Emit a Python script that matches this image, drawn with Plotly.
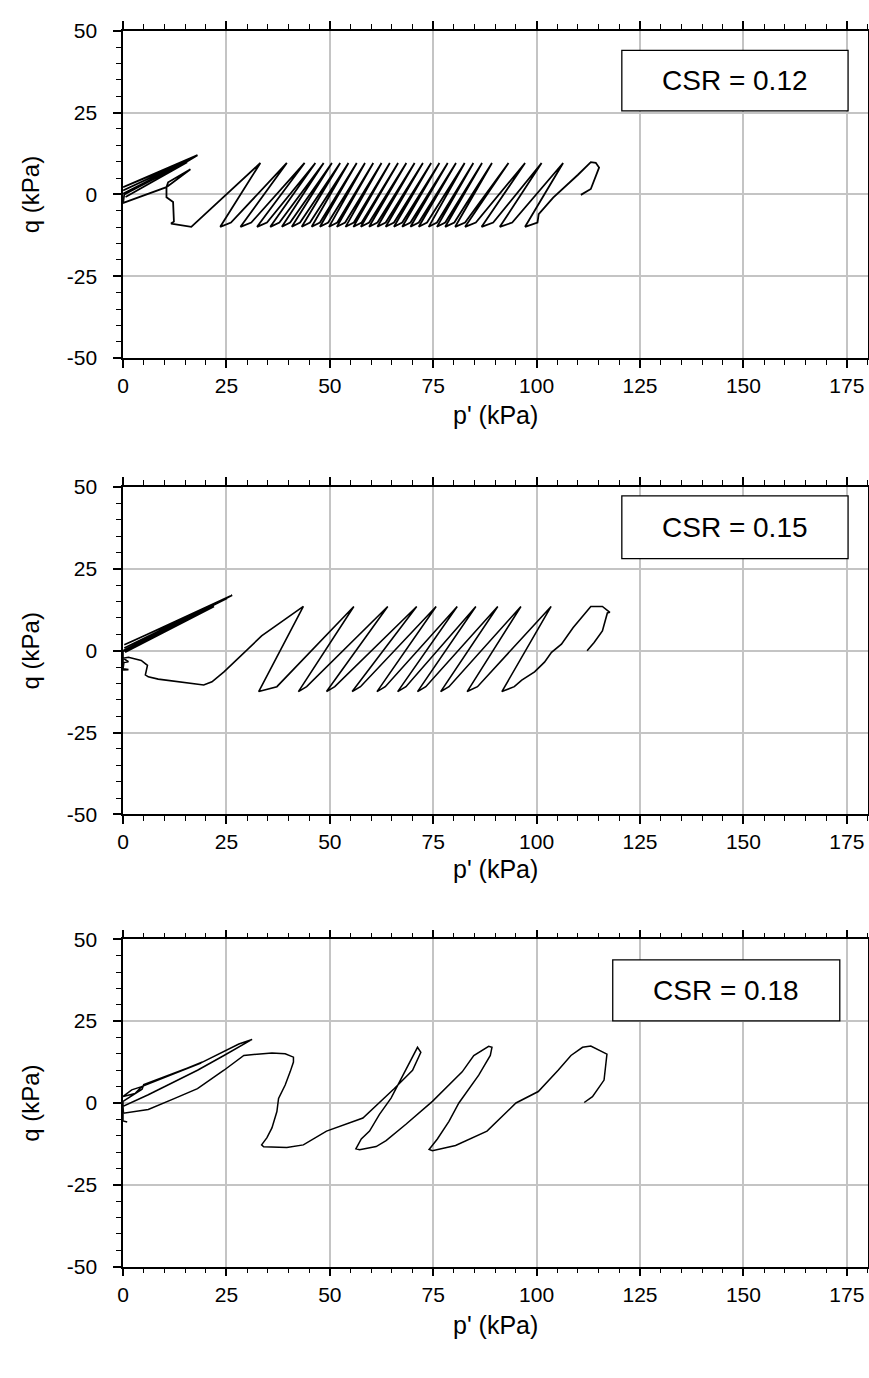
import plotly.graph_objects as go

# ---------------- data ----------------
x_ticks = [0, 25, 50, 75, 100, 125, 150, 175]
y_ticks = [-50, -25, 0, 25, 50]
y_ticktext = ["-50", "-25", "0", "25", "50"]
csr_labels = ["CSR = 0.12", "CSR = 0.15", "CSR = 0.18"]

# Panel 1 (CSR = 0.12)
p1_head_p = [110.7, 113.1, 115.1, 114.3, 113.1, 110.0, 104.0, 100.5]
p1_head_q = [-0.15, 1.65, 8.2, 9.67, 9.87, 6.0, -1.0, -6.0]
p1_peaks = [106.4, 101.2, 97.2, 93.2, 89.2, 86.8, 84.7, 82.6, 80.5, 78.5, 76.5, 74.5,
            72.5, 70.5, 68.5, 66.5, 64.5, 62.5, 60.5, 58.5, 56.5, 54.5, 52.5, 50.5,
            48.5, 46.5, 43.9, 39.6, 33.2]
p1_troughs = [97.2, 91.1, 86.7, 82.7, 80.3, 77.9, 75.9, 73.9, 71.5, 69.5, 67.5, 65.5,
              63.5, 61.5, 59.5, 57.5, 55.7, 53.8, 51.7, 49.8, 47.6, 45.6, 43.2, 40.8,
              38.4, 35.6, 32.4, 28.4, 23.5, 16.5]
# hook ("foot") length at the bottom of each descent, kPa
p1_feet = [3.0, 3.0, 2.8, 2.6, 2.4, 2.2, 2.0, 2.0, 2.0, 2.0, 2.0, 2.0,
           2.0, 2.0, 2.0, 2.0, 2.0, 2.0, 2.0, 2.0, 2.0, 2.0, 2.0, 2.0,
           2.0, 2.2, 2.4, 2.6, 2.6, 0.0]
p1_peak_q = 9.6
p1_trough_q = -9.9
p1_knee_q = -8.6
p1_tail_p = [11.6, 12.3, 12.1, 10.5, 10.5, 10.9, 16.3, 10.5, 0.0, 0.3, 15.7, 18.0, 0.0,
             16.0, 0.0, 17.0, 0.0, 15.5, 0.6]
p1_tail_q = [-8.9, -8.3, -2.3, -0.85, 2.2, 3.7, 7.7, 2.2, -2.6, 0.0, 10.2, 12.0, 2.2,
             10.6, 1.2, 11.2, 0.2, 9.8, -0.8]

# Panel 2 (CSR = 0.15)
p2_head_p = [112.2, 113.9, 115.9, 117.1, 117.7, 115.9, 113.1, 111.1, 108.8, 106.0, 103.6,
             101.9, 99.5, 96.4]
p2_head_q = [0.0, 2.5, 6.0, 11.5, 11.7, 13.5, 13.5, 10.5, 7.0, 2.0, -0.5, -3.5, -6.5,
             -9.0]
p2_troughs = [91.6, 83.2, 76.8, 71.2, 66.4, 61.4, 55.4, 49.2, 42.4, 32.8]
p2_feet = [3.0, 2.5, 2.0, 2.0, 2.0, 2.0, 2.0, 2.0, 2.0, 4.4]
p2_peaks = [103.5, 96.2, 90.6, 85.3, 80.8, 75.7, 71.0, 64.0, 55.8, 43.6]
p2_peak_q = 13.5
p2_trough_q = -12.5
p2_knee_q = -11.0
p2_tail_p = [33.5, 24.4, 21.5, 19.5, 8.5, 6.1, 5.4, 5.9, 4.4, 1.3, 0.0, 1.3, 0.2, 0.0, 1.3,
             0.0, 0.0, 26.4, 0.3, 25.8, 2.5, 0.3, 25.2, 0.0, 22.0, 0.5]
p2_tail_q = [4.5, -6.5, -9.5, -10.5, -8.7, -8.0, -7.4, -4.5, -3.0, -2.0, -2.3, -3.4, -3.6,
             -5.5, -5.8, -5.9, -0.3, 16.9, 0.8, 16.6, 3.0, 1.8, 16.0, 0.0, 13.5, -0.5]

# Panel 3 (CSR = 0.18)
p3_p = [111.5, 113.5, 116.3, 117.0, 113.1, 111.1, 108.3, 105.2, 100.4, 95.0, 88.0, 80.4,
        74.8, 74.0, 76.0, 77.2, 78.8, 81.2, 86.0, 88.8, 89.2, 88.4, 84.8, 82.0, 74.8,
        68.4, 63.6, 61.2, 57.2, 56.3, 57.6, 59.6, 62.0, 64.8, 66.8, 69.2, 71.2, 72.0,
        70.0, 65.6, 58.0, 49.2, 43.6, 39.6, 34.0, 33.5, 34.8, 36.0, 37.2, 37.6, 39.2,
        40.4, 41.2, 41.2, 39.2, 36.0, 29.2, 24.4, 18.0, 12.5, 6.1, 0.1, 0.0, 6.1, 12.5,
        18.0, 24.4, 28.4, 31.2, 28.0, 19.2, 4.5, 2.1, 0.0, 2.9, 4.5, 19.0, 5.0, 4.6, 0.0,
        0.0, 1.0]
p3_q = [0.15, 1.95, 7.0, 14.9, 17.4, 17.0, 14.5, 10.0, 3.5, 0.0, -8.6, -13.0,
        -14.6, -14.2, -11.0, -8.6, -5.6, 0.0, 8.5, 14.5, 17.0, 17.3, 14.5, 9.5, 0.5,
        -6.5, -11.5, -13.3, -14.3, -14.0, -11.0, -8.6, -3.5, 1.5, 6.5, 12.5, 17.0, 15.5,
        10.0, 4.4, -4.6, -8.6, -12.8, -13.6, -13.4, -12.8, -10.6, -7.6, -2.6, 1.4, 5.5,
        9.5, 12.5, 14.0, 15.0, 15.3, 14.5, 10.0, 4.4, 1.4, -2.0, -3.1, -1.0, 2.5, 6.5,
        10.0, 14.5, 17.5, 19.4, 18.0, 12.5, 5.0, 4.0, 2.0, 2.9, 5.0, 12.3, 5.6, 4.2, 0.5,
        -5.5, -5.8]

# box positions (data coordinates) for CSR labels
box_x0 = [120.6, 120.6, 118.4]
box_x1 = [175.3, 175.3, 173.3]
box_y0 = [25.5, 28.1, 25.1]
box_y1 = [44.0, 47.3, 43.7]


def zigzag(head_p, head_q, peaks, troughs, feet, pq, tq, kq, tail_p, tail_q):
    xs, ys = list(head_p), list(head_q)
    for i, t in enumerate(troughs):
        if feet[i] > 0:
            xs.append(t + feet[i]); ys.append(kq)
        xs.append(t); ys.append(tq)
        if i < len(peaks):
            xs.append(peaks[i]); ys.append(pq)
    xs += tail_p
    ys += tail_q
    return xs, ys


x1, y1 = zigzag(p1_head_p, p1_head_q, p1_peaks, p1_troughs, p1_feet, p1_peak_q,
                p1_trough_q, p1_knee_q, p1_tail_p, p1_tail_q)
x2, y2 = zigzag(p2_head_p, p2_head_q, p2_peaks, p2_troughs, p2_feet, p2_peak_q,
                p2_trough_q, p2_knee_q, p2_tail_p, p2_tail_q)
x3, y3 = p3_p, p3_q

# ---------------- figure ----------------
W, H = 869, 1378
FONT = "Arial, Liberation Sans, sans-serif"
panels_px = [(19, 352), (483, 816), (943, 1276)]  # pixel y of q=50 and q=-50
x_left_px, x_right_px = 118, 869
xtitle_px = [410, 872, 1335]
line_widths = [1.8, 1.6, 1.5]

fig = go.Figure()
for i, (xs, ys) in enumerate([(x1, y1), (x2, y2), (x3, y3)]):
    sfx = "" if i == 0 else str(i + 1)
    fig.add_trace(go.Scatter(x=xs, y=ys, mode="lines",
                             line=dict(color="black", width=line_widths[i]),
                             xaxis="x" + sfx, yaxis="y" + sfx, showlegend=False,
                             hoverinfo="skip"))

layout = dict(width=W, height=H, margin=dict(l=0, r=0, t=0, b=0),
              paper_bgcolor="white", plot_bgcolor="white",
              font=dict(family=FONT, color="black"), showlegend=False)

shapes = []
annotations = []
for i, (ytop, ybot) in enumerate(panels_px):
    sfx = "" if i == 0 else str(i + 1)
    xd = [x_left_px / W, 868.5 / W]
    yd = [1 - ybot / H, 1 - ytop / H]
    layout["xaxis" + sfx] = dict(
        domain=xd, range=[0, 180], anchor="y" + sfx,
        tickvals=x_ticks, ticks="outside", ticklen=8, tickwidth=1.5, tickcolor="black",
        showline=True, linecolor="black", linewidth=1.5, mirror="ticks",
        showgrid=True, gridcolor="#c4c4c4", gridwidth=2, zeroline=False,
        minor=dict(dtick=5, tick0=0, ticks="outside", ticklen=5, tickwidth=1.2,
                   tickcolor="black", showgrid=False),
        tickfont=dict(size=21, family=FONT, color="black"), fixedrange=True)
    layout["yaxis" + sfx] = dict(
        domain=yd, range=[-50, 50], anchor="x" + sfx,
        tickvals=y_ticks, ticktext=y_ticktext, ticks="outside", ticklen=8,
        tickwidth=1.5, tickcolor="black",
        showline=True, linecolor="black", linewidth=1.5, mirror=True,
        showgrid=True, gridcolor="#c4c4c4", gridwidth=2, zeroline=False,
        minor=dict(dtick=5, tick0=0, ticks="outside", ticklen=5, tickwidth=1.2,
                   tickcolor="black", showgrid=False),
        ticklabelstandoff=12,
        tickfont=dict(size=21, family=FONT, color="black"), fixedrange=True)

    shapes.append(dict(type="rect", xref="x" + sfx, yref="y" + sfx,
                       x0=box_x0[i], x1=box_x1[i], y0=box_y0[i], y1=box_y1[i],
                       line=dict(color="black", width=1.3), fillcolor="white", layer="above"))
    annotations.append(dict(xref="x" + sfx, yref="y" + sfx,
                            x=(box_x0[i] + box_x1[i]) / 2, y=(box_y0[i] + box_y1[i]) / 2,
                            text=csr_labels[i], showarrow=False,
                            font=dict(size=28, family=FONT, color="black"),
                            xanchor="center", yanchor="middle"))
    # axis titles
    annotations.append(dict(xref="paper", yref="paper",
                            x=((x_left_px + x_right_px) / 2) / W,
                            y=1 - xtitle_px[i] / H,
                            text="p' (kPa)", showarrow=False,
                            font=dict(size=25, family=FONT, color="black"),
                            xanchor="center", yanchor="middle"))
    annotations.append(dict(xref="paper", yref="paper",
                            x=25 / W, y=1 - ((ytop + ybot) / 2) / H,
                            text="q (kPa)", showarrow=False, textangle=-90,
                            font=dict(size=24, family=FONT, color="black"),
                            xanchor="center", yanchor="middle"))

layout["shapes"] = shapes
layout["annotations"] = annotations
fig.update_layout(**layout)
fig.write_html("out.html")
